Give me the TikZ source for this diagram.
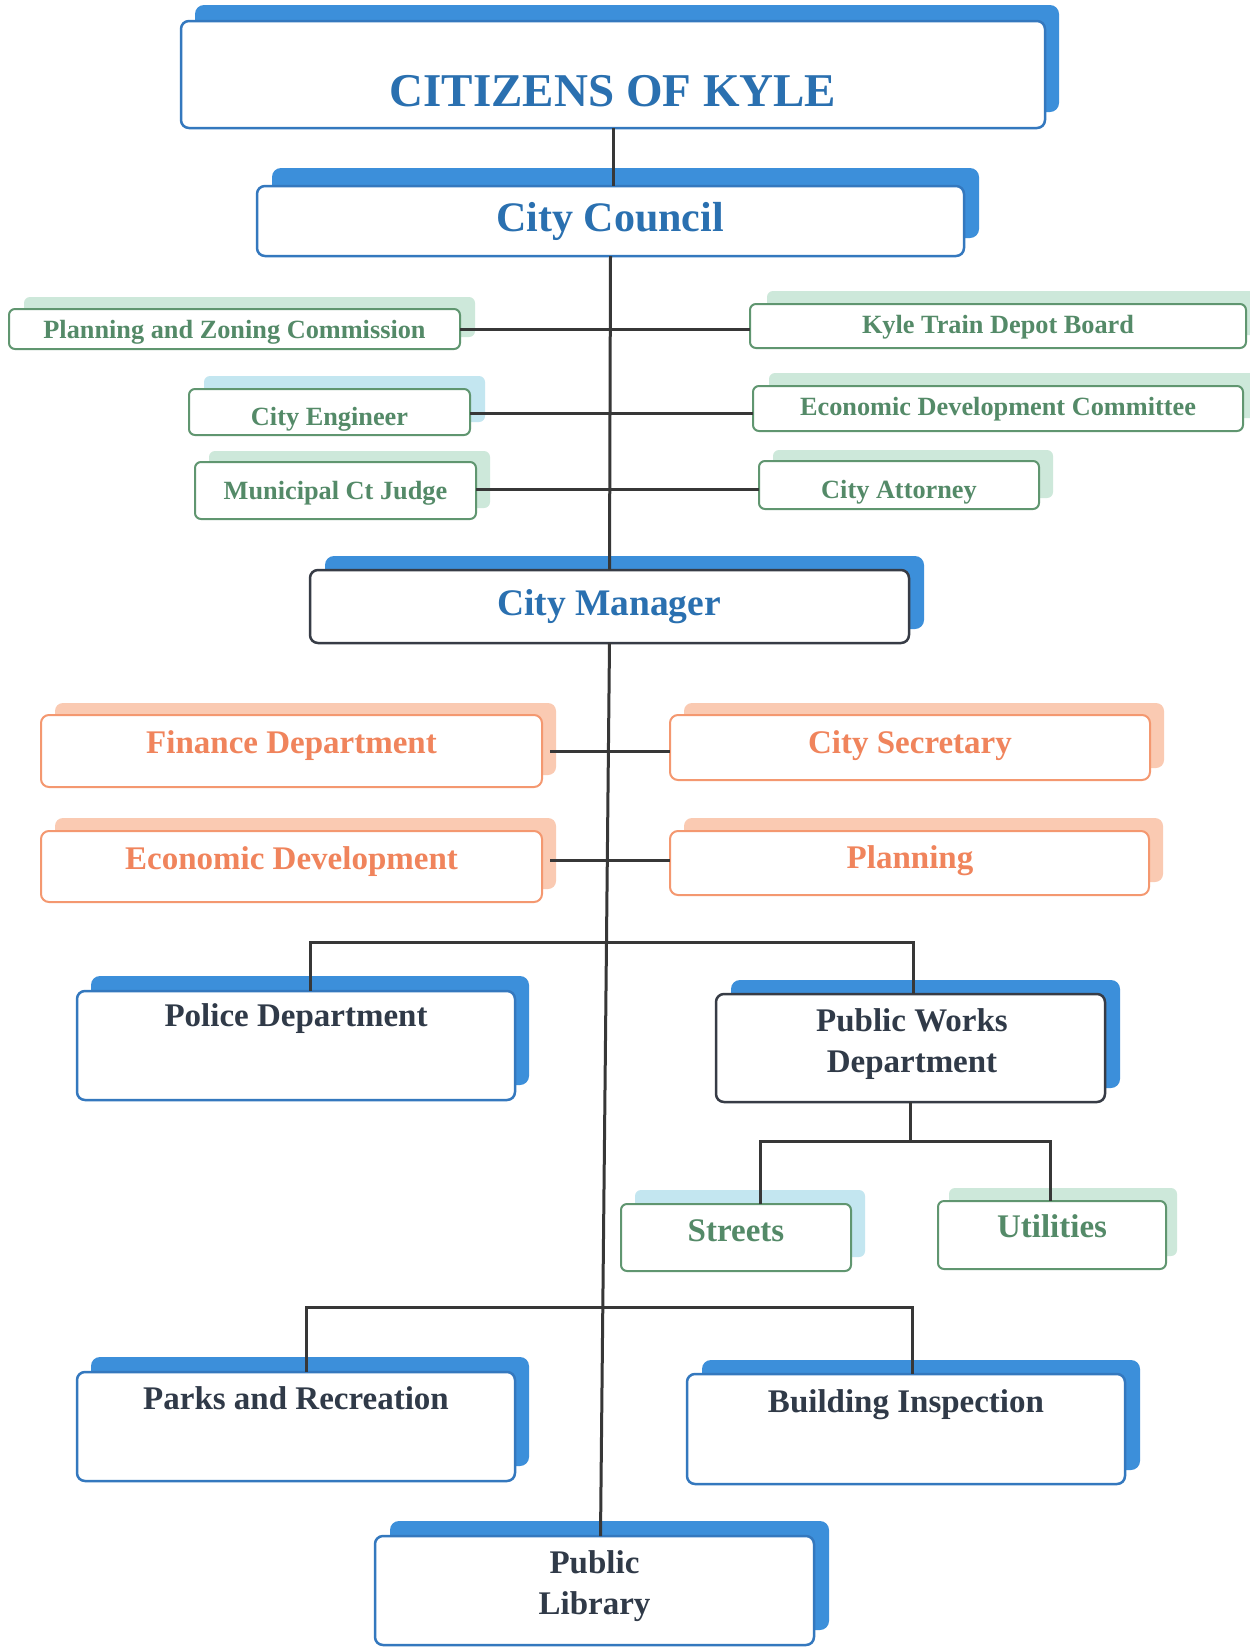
\documentclass[tikz,border=0pt]{standalone}
\usepackage{fontspec}
\setmainfont{Liberation Serif}
\usetikzlibrary{fit}
\definecolor{bluebd}{RGB}{52,120,190}
\definecolor{blueshc}{RGB}{60,143,218}
\definecolor{bluetx}{RGB}{42,112,176}
\definecolor{darkbd}{RGB}{55,60,70}
\definecolor{darktx}{RGB}{48,58,72}
\definecolor{greenbd}{RGB}{96,150,112}
\definecolor{greentx}{RGB}{84,138,104}
\definecolor{greensh}{RGB}{205,232,218}
\definecolor{cyansh}{RGB}{195,230,240}
\definecolor{orangebd}{RGB}{244,152,112}
\definecolor{orangetx}{RGB}{240,132,92}
\definecolor{orangesh}{RGB}{250,202,178}
\definecolor{connc}{RGB}{55,55,55}
\newcommand{\fs}[2]{\fontsize{#1}{#2}\selectfont\bfseries}
\newcommand{\orgbox}[9]{%
  \node[#8, fit={(#2+#6,-#3+#7) (#4+#6,-#5+#7)}] (#1s) {};
  \node[#9, fit={(#2,-#3) (#4,-#5)}] (#1) {};
}
\tikzset{
  every node/.style={inner sep=0pt, outer sep=0pt},
  boxbase/.style={rectangle, rounded corners=8pt, fill=white},
  bluebox/.style={boxbase, draw=bluebd, line width=2.5pt},
  darkbox/.style={boxbase, draw=darkbd, line width=2.5pt},
  greenbox/.style={boxbase, draw=greenbd, line width=2pt, rounded corners=6pt},
  orangebox/.style={boxbase, draw=orangebd, line width=2pt},
  blueshd/.style={rectangle, rounded corners=9pt, fill=blueshc},
  greenshd/.style={rectangle, rounded corners=6pt, fill=greensh},
  cyanshd/.style={rectangle, rounded corners=6pt, fill=cyansh},
  orangeshd/.style={rectangle, rounded corners=8pt, fill=orangesh},
  bluetxt/.style={text=bluetx, anchor=base},
  darktxt/.style={text=darktx, anchor=base, align=center},
  greentxt/.style={text=greentx, anchor=base, font=\fs{26.3}{32}},
  orangetxt/.style={text=orangetx, anchor=base, font=\fs{33}{40}},
  conn/.style={line width=3pt, draw=connc},
}
\begin{document}
\begin{tikzpicture}[x=1pt,y=1pt]
\useasboundingbox[fill=white] (0,0) rectangle (1250,-1647);

\coordinate (bus1) at (0,-942);
\coordinate (bus2) at (0,-1141);
\coordinate (bus3) at (0,-1307);

% boxes
\orgbox{CIT}{181}{21}{1045}{128}{14}{16}{blueshd}{bluebox}
\orgbox{CC}{257}{186}{964}{256}{15}{18}{blueshd}{bluebox}
\orgbox{PZC}{9}{309}{460}{349}{15}{12}{greenshd}{greenbox}
\orgbox{KTD}{750}{304}{1246}{348}{17}{13}{greenshd}{greenbox}
\orgbox{CE}{189}{389}{470}{435}{15}{13}{cyanshd}{greenbox}
\orgbox{EDC}{753}{386}{1243}{431}{16}{13}{greenshd}{greenbox}
\orgbox{MJ}{195}{462}{476}{519}{14}{11}{greenshd}{greenbox}
\orgbox{CA}{759}{461}{1039}{509}{14}{11}{greenshd}{greenbox}
\orgbox{CM}{310}{570}{909}{643}{15}{14}{blueshd}{darkbox}
\orgbox{FD}{41}{715}{542}{787}{14}{12}{orangeshd}{orangebox}
\orgbox{CS}{670}{715}{1150}{780}{14}{12}{orangeshd}{orangebox}
\orgbox{ED}{41}{831}{542}{902}{14}{13}{orangeshd}{orangebox}
\orgbox{PLN}{670}{831}{1149}{895}{14}{13}{orangeshd}{orangebox}
\orgbox{PD}{77}{991}{515}{1100}{14}{15}{blueshd}{bluebox}
\orgbox{PW}{716}{994}{1105}{1102}{15}{14}{blueshd}{darkbox}
\orgbox{ST}{621}{1204}{851}{1271}{14}{14}{cyanshd}{greenbox}
\orgbox{UT}{938}{1201}{1166}{1269}{11}{13}{greenshd}{greenbox}
\orgbox{PR}{77}{1372}{515}{1481}{14}{15}{blueshd}{bluebox}
\orgbox{BI}{687}{1374}{1125}{1484}{15}{14}{blueshd}{bluebox}
\orgbox{LIB}{375}{1536}{814}{1645}{15}{15}{blueshd}{bluebox}

% connectors
\draw[conn] (CIT.south) -- (CIT.south |- CC.north);
\draw[conn] (CC.south) -- (CM.north);
\draw[conn] (PZC.east) -- (PZC.east -| KTD.west);
\draw[conn] ([yshift=-1pt]CE.east) -- ([yshift=-1pt]CE.east -| EDC.west);
\draw[conn] ([yshift=1pt]MJ.east) -- ([yshift=1pt]MJ.east -| CA.west);
\draw[conn] (CM.south) -- ([xshift=6pt]LIB.north);
\draw[conn] ([xshift=8pt]FD.east) -- (FD.east -| CS.west);
\draw[conn] ([xshift=8pt,yshift=6pt]ED.east) -- ([yshift=6pt]ED.east -| PLN.west);
\draw[conn] ([xshift=14pt]PD.north) |- ([xshift=3pt]bus1 -| PW.north) -- ([xshift=3pt]PW.north);
\draw[conn] (PW.south) -- (PW.south |- bus2);
\draw[conn] ([xshift=24pt]ST.north) |- ([xshift=-2pt]bus2 -| UT.north) -- ([xshift=-2pt]UT.north);
\draw[conn] ([xshift=10pt]PR.north) |- ([xshift=6pt]bus3 -| BI.north) -- ([xshift=6pt]BI.north);

% texts
\node[bluetxt, font=\fs{47}{56}] (CITt) at (613,-106) {CITIZENS OF KYLE};
\node[bluetxt, font=\fs{42}{50}] (CCt) at (610,-231) {City Council};
\node[bluetxt, font=\fs{37.5}{45}] (CMt) at (609,-615) {City Manager};
\node[greentxt] (PZCt) at (234.5,-338) {Planning and Zoning Commission};
\node[greentxt] (KTDt) at (998,-333) {Kyle Train Depot Board};
\node[greentxt] (CEt) at (329.5,-425) {City Engineer};
\node[greentxt] (EDCt) at (998,-415) {Economic Development Committee};
\node[greentxt] (MJt) at (335.5,-499) {Municipal Ct Judge};
\node[greentxt] (CAt) at (899,-498) {City Attorney};
\node[orangetxt] (FDt) at (291.5,-753) {Finance Department};
\node[orangetxt] (CSt) at (910,-753) {City Secretary};
\node[orangetxt] (EDt) at (291.5,-869) {Economic Development};
\node[orangetxt] (PLNt) at (910,-868) {Planning};
\node[darktxt, font=\fs{33}{41}] (PDt) at (296,-1026) {Police Department};
\node[darktxt, font=\fs{33}{41}] (PWt) at (912,-1072) {Public Works\\Department};
\node[greentxt, font=\fs{33}{40}] (STt) at (736,-1241) {Streets};
\node[greentxt, font=\fs{33}{40}] (UTt) at (1052,-1237) {Utilities};
\node[darktxt, font=\fs{33}{41}] (PRt) at (296,-1409) {Parks and Recreation};
\node[darktxt, font=\fs{33}{41}] (BIt) at (906,-1412) {Building Inspection};
\node[darktxt, font=\fs{33}{41}] (LIBt) at (594.5,-1614) {Public\\Library};
\end{tikzpicture}
\end{document}
